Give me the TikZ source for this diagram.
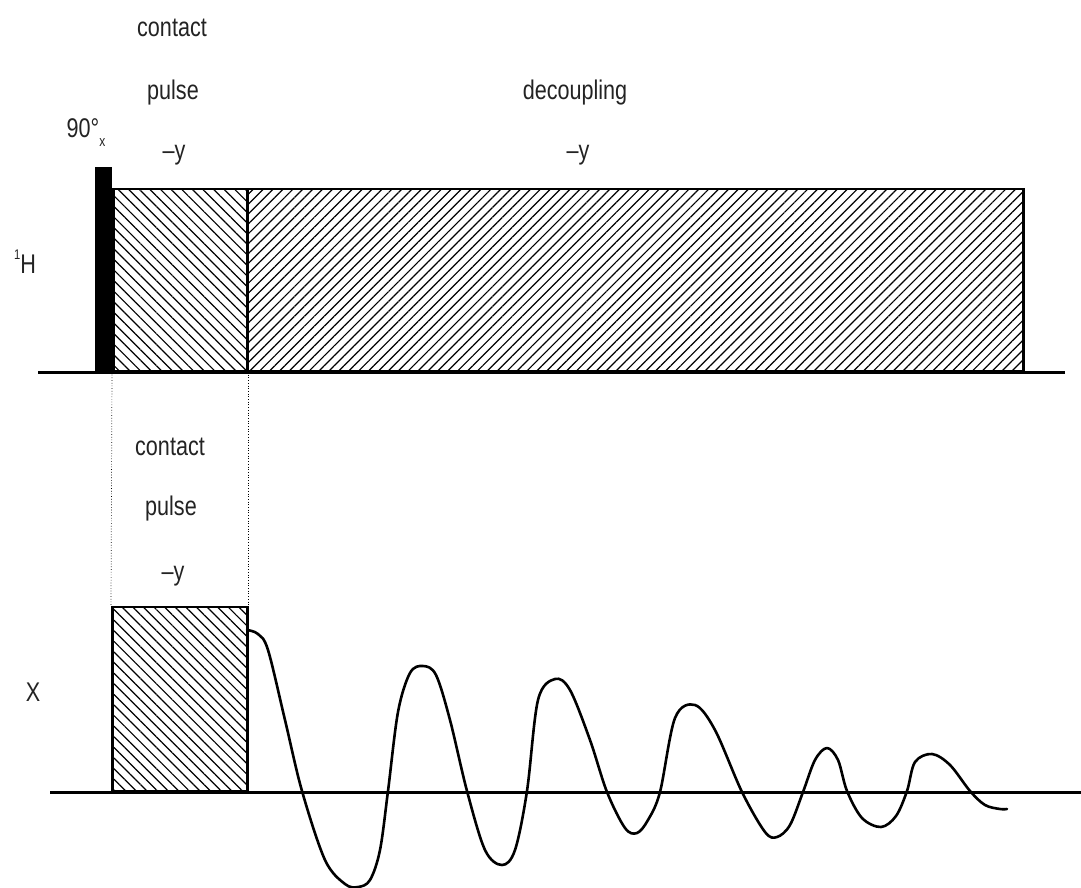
\documentclass[tikz,border=0pt]{standalone}
\usepackage{fontspec}
\setmainfont{Liberation Sans}[FakeStretch=0.8]
\usetikzlibrary{patterns.meta}
\definecolor{txt}{RGB}{35,35,35}
\tikzset{
  lbl/.style={anchor=base, inner sep=0pt, text=txt, font=\fontsize{27}{30}\selectfont},
  axisline/.style={line width=3pt},
  boxline/.style={line width=2.5pt},
  hatchNW/.style={pattern={Lines[angle=-45,distance=7.5pt,line width=1.2pt]}},
  hatchNE/.style={pattern={Lines[angle=45,distance=7pt,line width=1.2pt]}},
  guide/.style={dotted, line width=0.7pt},
  fid/.style={line width=2.6pt, line join=round, line cap=round}
}
\begin{document}
\begin{tikzpicture}[x=1pt,y=-1pt]
\useasboundingbox (0,0) rectangle (1081,888);
% 1H channel
\coordinate (h0) at (38,372);
\coordinate (h1) at (1065,372);
\draw[axisline] (h0) -- (h1);
\node[fill=black, inner sep=0pt, minimum width=17pt, minimum height=205pt, anchor=south west] (p90) at (95,372) {};
\node[hatchNW, draw, boxline, inner sep=0pt, minimum width=134pt, minimum height=182pt, anchor=south west] (hcp) at (112,372) {};
\node[hatchNE, draw, boxline, inner sep=0pt, minimum width=776pt, minimum height=182pt, anchor=south west] (dec) at (246,372) {};
% X channel
\coordinate (x0) at (50,792);
\coordinate (x1) at (1081,792);
\draw[axisline] (x0) -- (x1);
\node[hatchNW, draw, boxline, inner sep=0pt, minimum width=135pt, minimum height=184pt, anchor=south west] (xcp) at (111,792) {};
% guides
\draw[guide] (hcp.south west) -- (xcp.north west);
\draw[guide] (hcp.south east) -- (xcp.north east);
% labels
\node[lbl] (t1) at (172,37) {contact};
\node[lbl] (t2) at (173,100) {pulse};
\node[lbl] (t3) at (174,159) {–y};
\node[lbl] (t4) at (86,137) {90°\raisebox{-0.35em}{\fontsize{15}{15}\selectfont x}};
\node[lbl] (t5) at (575,100) {decoupling};
\node[lbl] (t6) at (578,159) {–y};
\node[lbl] (t7) at (25,273) {\raisebox{0.5em}{\fontsize{14}{14}\selectfont 1}H};
\node[lbl] (b1) at (170,455) {contact};
\node[lbl] (b2) at (171,515) {pulse};
\node[lbl] (b3) at (173,580) {–y};
\node[lbl] (b4) at (33,701) {X};
% FID
\draw[fid] plot[smooth, tension=0.55] coordinates {
(247,630) (258,634) (268,650) (285,720) (302,791) (325,860) (345,884) (358,887) (370,880) (380,850) (388,791) (398,712) (410,673) (423,666) (436,675) (450,720) (467,791) (485,850) (502,865) (515,850) (527,791) (538,700) (555,679) (570,690) (590,740) (607,792) (625,828) (637,833) (648,820) (660,792) (675,718) (695,705) (715,730) (742,792) (765,832) (777,837) (790,825) (803,792) (815,760) (827,748) (838,760) (847,791) (862,818) (881,827) (896,816) (907,791) (915,762) (932,754) (950,765) (970,791) (985,805) (1000,809) (1007,809)};
\end{tikzpicture}
\end{document}
